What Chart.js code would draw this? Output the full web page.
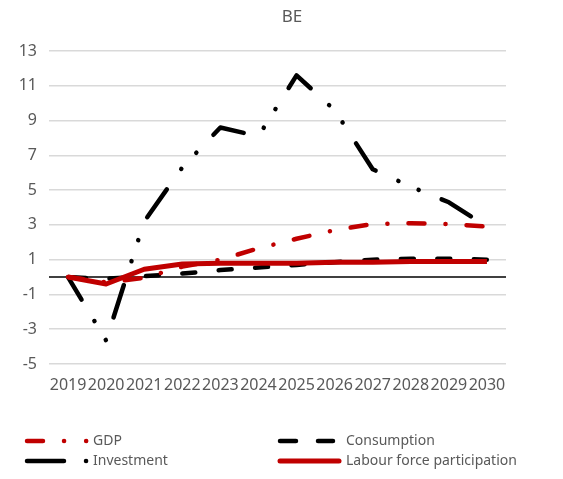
<!DOCTYPE html>
<html>
<head>
<meta charset="utf-8">
<script src="https://cdn.jsdelivr.net/npm/chart.js@4"></script>
<style>
  html, body { margin: 0; padding: 0; background: #fff; }
  #wrap { width: 563px; height: 479px; }
</style>
</head>
<body>
<div id="wrap"><canvas id="chart" width="563" height="479"></canvas></div>
<script>
const years = ['2019', '2020', '2021', '2022', '2023', '2024', '2025', '2026', '2027', '2028', '2029', '2030'];
const gdp = [0, -0.3, -0.05, 0.6, 1.0, 1.65, 2.2, 2.7, 3.05, 3.1, 3.05, 2.9];
const consumption = [0, -0.1, 0.05, 0.2, 0.4, 0.55, 0.7, 0.85, 1.0, 1.05, 1.05, 1.0];
const investment = [0, -3.65, 3.2, 6.3, 8.6, 8.1, 11.6, 9.6, 6.2, 5.2, 4.3, 2.9];
const labour = [0, -0.4, 0.45, 0.75, 0.8, 0.8, 0.8, 0.85, 0.85, 0.9, 0.9, 0.9];
const yTicks = [-5, -3, -1, 1, 3, 5, 7, 9, 11, 13];

const red = '#c00000';
const grey = '#595959';
const fontFamily = '"Noto Sans", "DejaVu Sans", sans-serif';

// legend sample strokes, drawn by hand so the dash looks like the original
const legendItems = [
    { ds: 0, x: 27, y: 441, end: 95, dash: [16, 21, 0.1, 22, 0.1, 100], textX: 93 },
    { ds: 1, x: 280, y: 441, end: 345, dash: [16, 22, 15, 100], textX: 346 },
    { ds: 2, x: 27, y: 461, end: 95, dash: [37, 22, 0.1, 100], textX: 93 },
    { ds: 3, x: 280, y: 461, end: 339, dash: [], textX: 346 }
];

// title, zero line and the two-column legend
const extras = {
    id: 'extras',
    beforeDatasetsDraw(chart) {
        const c = chart.ctx;
        const y0 = chart.scales.y.getPixelForValue(0);
        c.save();
        c.strokeStyle = '#000';
        c.lineWidth = 1.6;
        c.beginPath();
        c.moveTo(chart.chartArea.left, y0);
        c.lineTo(chart.chartArea.right, y0);
        c.stroke();
        c.restore();
    },
    afterDraw(chart) {
        const c = chart.ctx;
        c.save();
        c.fillStyle = grey;
        c.font = '17px ' + fontFamily;
        c.textAlign = 'center';
        c.textBaseline = 'middle';
        c.fillText('BE', 292, 17);

        legendItems.forEach(it => {
            const d = chart.data.datasets[it.ds];
            c.save();
            c.strokeStyle = d.borderColor;
            c.lineWidth = d.borderWidth;
            c.lineCap = 'round';
            c.setLineDash(it.dash);
            c.beginPath();
            c.moveTo(it.x, it.y);
            c.lineTo(it.end, it.y);
            c.stroke();
            c.restore();
            c.fillStyle = grey;
            c.font = '14px ' + fontFamily;
            c.textAlign = 'left';
            c.fillText(d.label, it.textX, it.y);
        });
        c.restore();
    }
};

new Chart(document.getElementById('chart'), {
    type: 'line',
    data: {
        labels: years,
        datasets: [
            { label: 'GDP', data: gdp, borderColor: red, borderWidth: 4.5, borderDash: [16, 21, 0.1, 21], borderDashOffset: 1, borderCapStyle: 'round', order: 1 },
            { label: 'Consumption', data: consumption, borderColor: '#000', borderWidth: 4.5, borderDash: [13, 23.5], borderDashOffset: 31.5, borderCapStyle: 'round', order: 2 },
            { label: 'Investment', data: investment, borderColor: '#000', borderWidth: 4.5, borderDash: [34, 25, 0.1, 22, 0.1, 24.8], borderDashOffset: 7.75, borderCapStyle: 'round', order: 3 },
            { label: 'Labour force participation', data: labour, borderColor: red, borderWidth: 5, order: 0 }
        ]
    },
    options: {
        responsive: false,
        animation: false,
        devicePixelRatio: 1,
        layout: { padding: { top: 51, right: 57, bottom: 0, left: 0 } },
        elements: {
            point: { radius: 0 },
            line: { tension: 0, borderJoinStyle: 'round' }
        },
        plugins: {
            legend: { display: false },
            tooltip: { enabled: false }
        },
        scales: {
            x: {
                offset: true,
                grid: { display: false, drawTicks: false },
                border: { display: false },
                ticks: { color: grey, font: { family: fontFamily, size: 16 }, padding: 12, autoSkip: false, maxRotation: 0 },
                afterFit: s => { s.height = 115; }
            },
            y: {
                min: -5,
                max: 13,
                afterBuildTicks: s => { s.ticks = yTicks.map(v => ({ value: v })); },
                grid: { color: '#d9d9d9', lineWidth: 1.5, drawTicks: false },
                border: { display: false },
                ticks: { color: grey, font: { family: fontFamily, size: 16 }, padding: 12 },
                afterFit: s => { s.width = 49; }
            }
        }
    },
    plugins: [extras]
});
</script>
</body>
</html>
